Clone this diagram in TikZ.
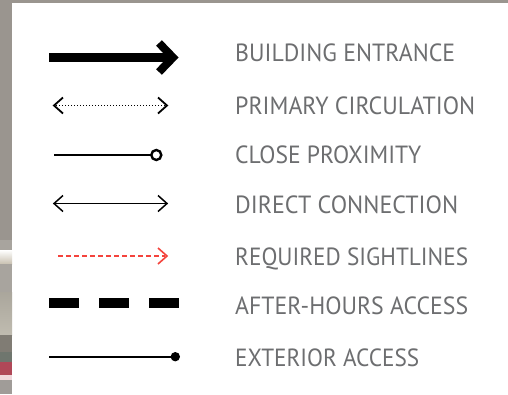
\documentclass[tikz,border=0pt]{standalone}
\usepackage{fontspec}
\setsansfont{PT Sans}
\usepackage{graphicx}
\definecolor{txtgrey}{HTML}{6D6E70}
\definecolor{bggrey}{HTML}{9A958F}
\definecolor{sightred}{HTML}{F4433C}
\definecolor{sA}{HTML}{A8A49E}
\definecolor{sB}{HTML}{C8C0B0}
\definecolor{sC}{HTML}{AAA69C}
\definecolor{sD}{HTML}{C0BCB0}
\definecolor{sE}{HTML}{807C74}
\definecolor{sF}{HTML}{6F766E}
\definecolor{sG}{HTML}{B04858}
\definecolor{sH}{HTML}{F0D8DC}
\definecolor{sI}{HTML}{A09C98}
\begin{document}
\begin{tikzpicture}[x=1pt,y=-1pt,
  lbl/.style={anchor=base west,inner sep=0pt,text=txtgrey,font=\sffamily},
  sym/.style={line width=1.3pt,black},
  chev/.style={line width=1.8pt,line join=miter,line cap=butt}]
\useasboundingbox (0,0) rectangle (508,394);
% background
\fill[white] (0,0) rectangle (508,394);
\fill[bggrey] (0,0) rectangle (508,3.3);
\fill[bggrey] (0,0) rectangle (12,394);
\fill[sA] (0,240) rectangle (12,250);
\shade[top color=white,bottom color=sB] (0,250) rectangle (12,264);
\fill[sA] (0,264) rectangle (12,292);
\shade[top color=sC,bottom color=sD] (0,292) rectangle (12,335);
\fill[sE] (0,335) rectangle (12,352);
\fill[sF] (0,352) rectangle (12,362);
\fill[sG] (0,362) rectangle (12,375);
\fill[sH] (0,375) rectangle (12,380);
\fill[sI] (0,380) rectangle (12,394);
% labels
\node[lbl] (t1) at (235,61) {\resizebox{220pt}{17.7pt}{BUILDING ENTRANCE}};
\node[lbl] (t2) at (235,114.3) {\resizebox{240pt}{17.7pt}{PRIMARY CIRCULATION}};
\node[lbl] (t3) at (235,163.3) {\resizebox{186pt}{17.7pt}{CLOSE PROXIMITY}};
\node[lbl] (t4) at (235,213.3) {\resizebox{223pt}{17.7pt}{DIRECT CONNECTION}};
\node[lbl] (t5) at (235,265) {\resizebox{233pt}{17.7pt}{REQUIRED SIGHTLINES}};
\node[lbl] (t6) at (235,314.5) {\resizebox{233pt}{17.7pt}{AFTER-HOURS ACCESS}};
\node[lbl] (t7) at (235,366) {\resizebox{184pt}{17.7pt}{EXTERIOR ACCESS}};
% row 1: building entrance
\draw[line width=8.5pt] (49,57.5) -- (171,57.5);
\draw[line width=8pt,line join=miter,miter limit=10] (159,43) -- (173,57.5) -- (159,72);
% row 2: primary circulation
\draw[line width=1.6pt,dash pattern=on 1pt off 2pt] (56,105.5) -- (166,105.5);
\draw[chev] (63,97.5) -- (54,105.5) -- (63,113.5);
\draw[chev] (158,97.5) -- (167,105.5) -- (158,113.5);
% row 3: close proximity
\draw[line width=2.6pt] (54,155) -- (151,155);
\draw[line width=2.4pt,fill=white] (156.3,155) circle (5);
% row 4: direct connection
\draw[sym] (54,203.5) -- (167,203.5);
\draw[chev,line width=1.5pt] (63,195.5) -- (54,203.5) -- (63,211.5);
\draw[chev,line width=1.5pt] (158,195.5) -- (167,203.5) -- (158,211.5);
% row 5: required sightlines
\draw[sightred,line width=1.4pt,dash pattern=on 5pt off 3pt] (58,256) -- (165,256);
\draw[sightred,chev,line width=1.6pt] (158,248) -- (167,256) -- (158,264);
% row 6: after-hours access
\draw[line width=10pt,dash pattern=on 30pt off 20pt] (49,303.3) -- (179,303.3);
% row 7: exterior access
\draw[line width=2pt] (49,356.7) -- (175,356.7);
\fill (175.3,356.7) circle (4.7);
\end{tikzpicture}
\end{document}
